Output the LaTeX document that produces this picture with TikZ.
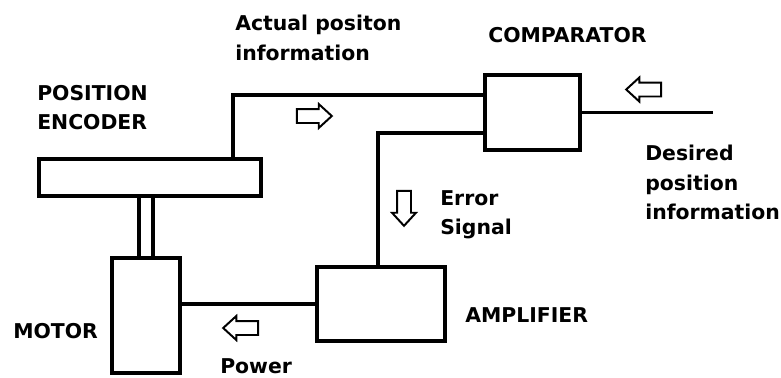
\documentclass[tikz,border=0pt]{standalone}
\usepackage{fontspec}
\setmainfont{DejaVu Sans}
\usetikzlibrary{shapes.arrows}

\begin{document}
\begin{tikzpicture}[x=0.025cm,y=-0.025cm]
    \pgfmathsetmacro{\px}{0.025}
    \tikzset{block/.style={draw,line width=2.8pt,inner sep=0pt},
             wire/.style={line width=2.2pt},
             txt/.style={anchor=north west,inner sep=0pt,align=left,font=\fontsize{14.5}{21}\selectfont\bfseries},
             hollow/.style={single arrow,draw,line width=1.4pt,inner sep=0pt,inner ysep=6*\px cm,
                            single arrow head extend=5*\px cm,single arrow tip angle=85,minimum height=35*\px cm}}
    \useasboundingbox (0,0) rectangle (781,377);
    % blocks
    \node[block,minimum width=222*\px cm,minimum height=37*\px cm] (encoder) at (150,177.5) {};
    \node[block,minimum width=95*\px cm,minimum height=75*\px cm] (comparator) at (532.5,112.5) {};
    \node[block,minimum width=128*\px cm,minimum height=74*\px cm] (amplifier) at (381,304) {};
    \node[block,minimum width=68*\px cm,minimum height=115*\px cm] (motor) at (146,315.5) {};
    % taps and free ends
    \coordinate (tapA) at (233,95);
    \coordinate (tapE) at (378,133);
    \coordinate (desired) at (713,115);
    % connections
    \draw[wire] (encoder.north -| tapA) |- (comparator.west |- tapA);
    \draw[wire] (amplifier.north -| tapE) |- (comparator.west |- tapE);
    \draw[wire] (comparator.east) -- (desired |- comparator.east);
    \draw[wire] (amplifier.west) -- (motor.east |- amplifier.west);
    \draw[wire] ([xshift=-7*\px cm]motor.north) -- ([xshift=-7*\px cm]motor.north |- encoder.south);
    \draw[wire] ([xshift=7*\px cm]motor.north) -- ([xshift=7*\px cm]motor.north |- encoder.south);
    % flow arrows
    \node[hollow] (actArrow) at (310.5,116) {};
    \node[hollow,rotate=180] (cmpArrow) at (647.5,89.5) {};
    \node[hollow,rotate=-90] (errArrow) at (404,204.5) {};
    \node[hollow,rotate=180] (pwrArrow) at (244.5,328) {};
    % labels
    \node[txt] (actLabel) at (235,15) {Actual positon\\information};
    \node[txt] (cmpLabel) at (488,27) {COMPARATOR};
    \node[txt] (encLabel) at (37,85) {POSITION\\ENCODER};
    \node[txt] (desLabel) at (645,145) {Desired\\position\\information};
    \node[txt] (errLabel) at (440,190) {Error\\Signal};
    \node[txt] (motLabel) at (13,323) {MOTOR};
    \node[txt] (ampLabel) at (465,307) {AMPLIFIER};
    \node[txt] (pwrLabel) at (220,358) {Power};
\end{tikzpicture}
\end{document}
